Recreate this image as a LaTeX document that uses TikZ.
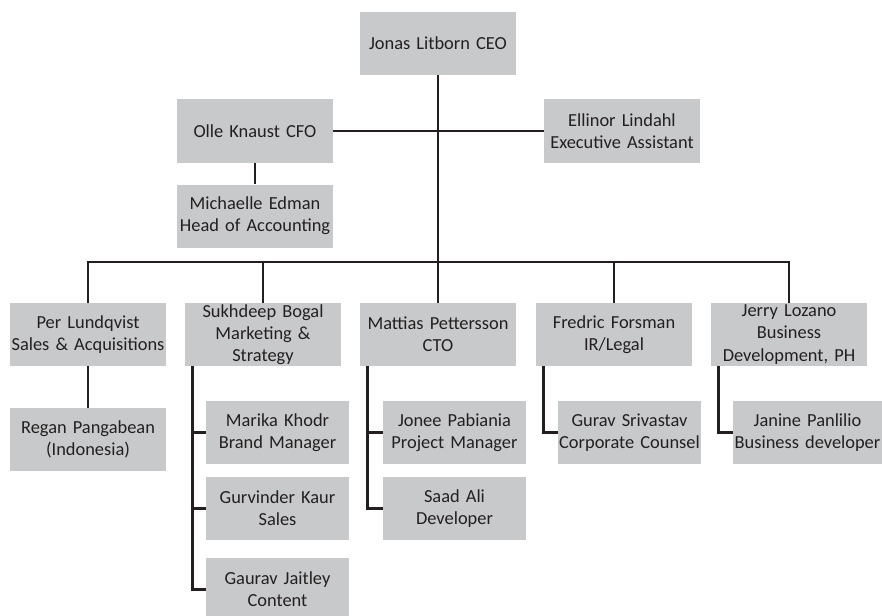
\documentclass[tikz,border=0pt]{standalone}
\usepackage{fontspec}
\setmainfont{Carlito}
\definecolor{unitgray}{RGB}{200,201,203}
\definecolor{inkblack}{RGB}{35,31,32}

\begin{document}
\begin{tikzpicture}[x=1pt,y=-1pt]
	\tikzstyle{unit}=[fill=unitgray,text=inkblack,inner sep=0pt,text width=156pt,minimum height=63pt,align=center,font=\fontsize{18.4}{22.3}\selectfont]
	\tikzstyle{sub}=[unit,text width=143pt]
	\tikzstyle{link}=[draw=inkblack,line width=2.9pt]
	\useasboundingbox (0,0) rectangle (882,615);
	% top
	\node[unit] (ceo) at (438,43.5) {Jonas Litborn CEO};
	\node[unit] (cfo) at (255,131) {Olle Knaust CFO};
	\node[unit] (ellinor) at (622,131) {Ellinor Lindahl\\Executive Assistant};
	\node[unit] (michaelle) at (255,216) {Michaelle Edman\\Head of Accounting};
	\coordinate (bus) at (438,262);
	% departments
	\node[unit] (per) at (88,334.5) {Per Lundqvist\\Sales \& Acquisitions};
	\node[unit] (sukh) at (263,334.5) {Sukhdeep Bogal\\Marketing \&\\Strategy};
	\node[unit] (mattias) at (438,334.5) {Mattias Pettersson\\CTO};
	\node[unit] (fredric) at (614,334.5) {Fredric Forsman\\IR/Legal};
	\node[unit] (jerry) at (789,334.5) {Jerry Lozano\\Business\\Development, PH};
	% staff
	\node[unit] (regan) at (88,439.5) {Regan Pangabean\\(Indonesia)};
	\node[sub] (marika) at (277.5,432.5) {Marika Khodr\\Brand Manager};
	\node[sub] (gurvinder) at (277.5,508.5) {Gurvinder Kaur\\Sales};
	\node[sub] (gaurav) at (277.5,589.5) {Gaurav Jaitley\\Content};
	\node[sub] (jonee) at (454.5,432.5) {Jonee Pabiania\\Project Manager};
	\node[sub] (saad) at (454.5,508.5) {Saad Ali\\Developer};
	\node[sub] (gurav) at (629.5,432.5) {Gurav Srivastav\\Corporate Counsel};
	\node[sub,text width=149pt] (janine) at (807.5,432.5) {Janine Panlilio\\Business developer};
	% links
	\draw[link] (ceo.south) -- (bus);
	\draw[link] (cfo.east) -- (ellinor.west);
	\draw[link] (cfo.south) -- (michaelle.north);
	\foreach \d in {per,sukh,mattias,fredric,jerry}
		\draw[link] (\d.north) |- (bus);
	\draw[link] (per.south) -- (regan.north);
	\foreach \s in {marika,gurvinder,gaurav}
		\draw[link] ([xshift=7.5pt]sukh.south west) |- (\s.west);
	\foreach \s in {jonee,saad}
		\draw[link] ([xshift=7.5pt]mattias.south west) |- (\s.west);
	\draw[link] ([xshift=7.5pt]fredric.south west) |- (gurav.west);
	\draw[link] ([xshift=7.5pt]jerry.south west) |- (janine.west);
\end{tikzpicture}
\end{document}
